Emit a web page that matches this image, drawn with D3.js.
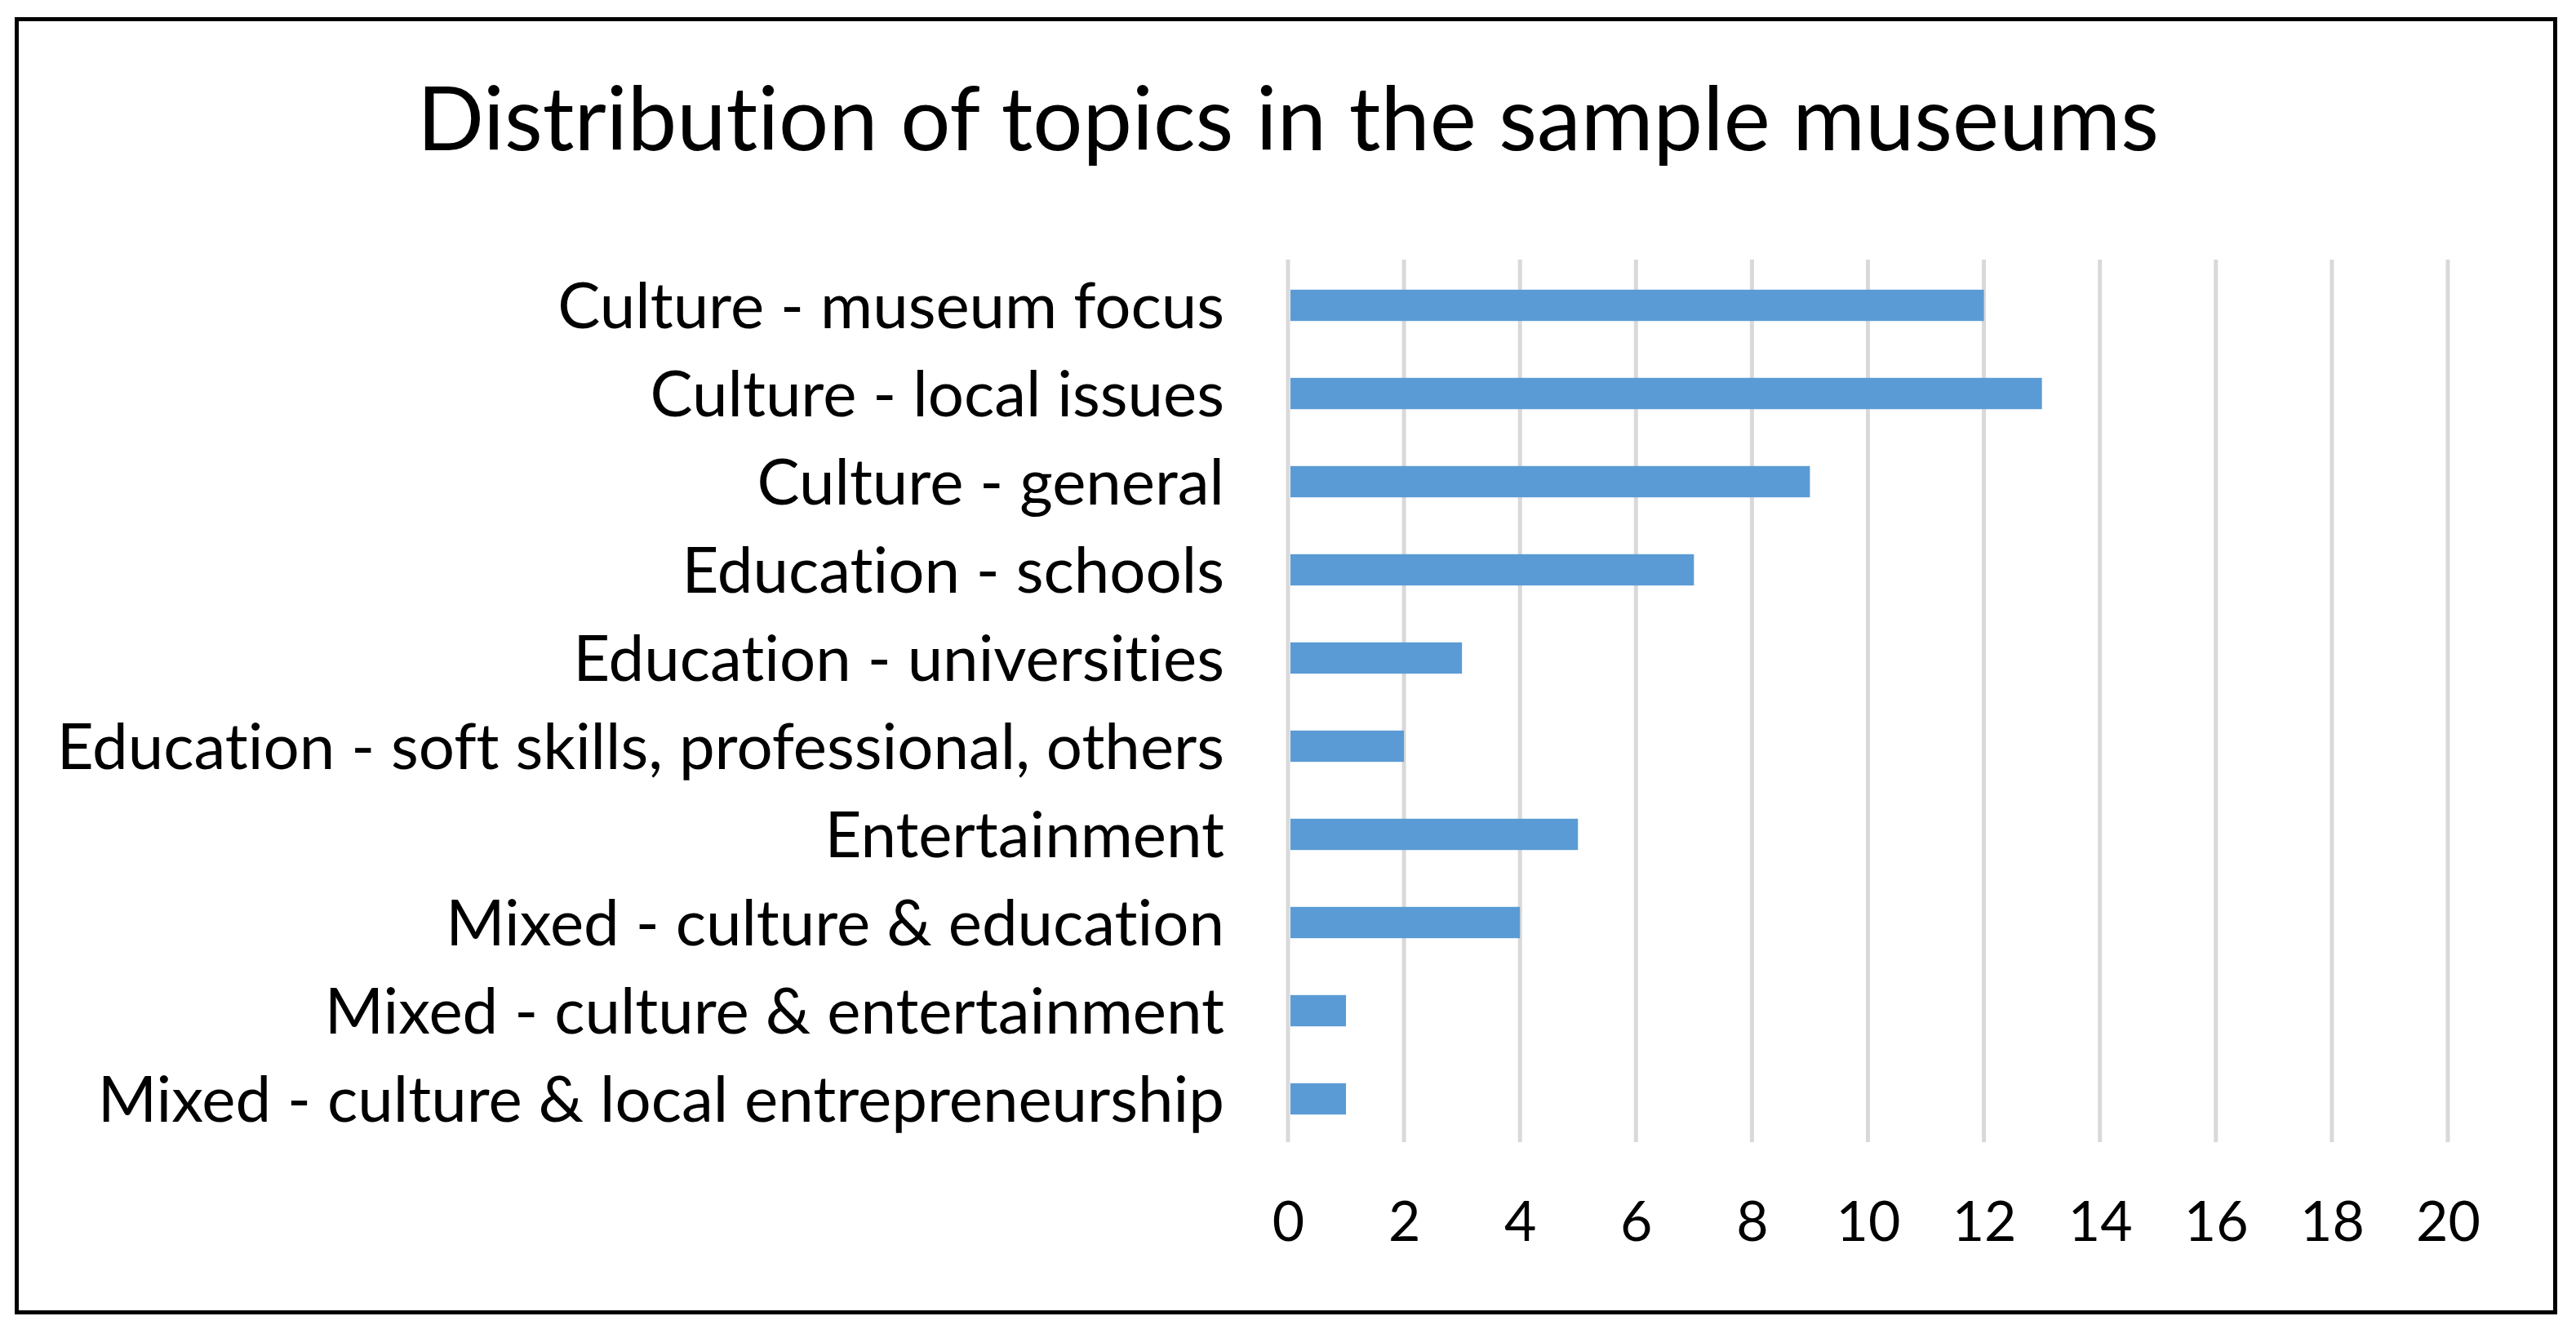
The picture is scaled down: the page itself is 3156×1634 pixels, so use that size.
<!DOCTYPE html>
<html>
<head>
<meta charset="utf-8">
<script src="https://cdn.jsdelivr.net/npm/d3@7"></script>
<style>
  html, body { margin: 0; padding: 0; background: #fff; }
  svg { display: block; }
  text { font-family: Lato, "Open Sans", sans-serif; fill: #000; font-variant-ligatures: none; }
</style>
</head>
<body>
<svg id="chart" width="3156" height="1634"></svg>
<script>
// data
const categories = [
  "Culture - museum focus",
  "Culture - local issues",
  "Culture - general",
  "Education - schools",
  "Education - universities",
  "Education - soft skills, professional, others",
  "Entertainment",
  "Mixed - culture & education",
  "Mixed - culture & entertainment",
  "Mixed - culture & local entrepreneurship"
];
const counts = [12, 13, 9, 7, 3, 2, 5, 4, 1, 1];
const xTicks = [0, 2, 4, 6, 8, 10, 12, 14, 16, 18, 20];
const title = "Distribution of topics in the sample museums";

const svg = d3.select("#chart");

// outer frame
svg.append("rect")
  .attr("x", 20.5).attr("y", 23.5)
  .attr("width", 3110).attr("height", 1584)
  .attr("fill", "#fff")
  .attr("stroke", "#000")
  .attr("stroke-width", 5);

const x = d3.scaleLinear()
  .domain([0, 20])
  .range([1578, 2999]);

const y = d3.scaleBand()
  .domain(categories)
  .range([320, 1400])
  .paddingInner(0.645)
  .paddingOuter(0.3225);

// title
svg.append("text")
  .attr("x", 1578)
  .attr("y", 184)
  .attr("text-anchor", "middle")
  .attr("font-size", "108px")
  .text(title);

// vertical gridlines
svg.append("g")
  .selectAll("line")
  .data(xTicks)
  .enter().append("line")
    .attr("x1", d => x(d)).attr("x2", d => x(d))
    .attr("y1", 318).attr("y2", 1399)
    .attr("stroke", "#d9d9d9")
    .attr("stroke-width", 5);

// bars
svg.append("g")
  .selectAll("rect")
  .data(counts)
  .enter().append("rect")
    .attr("x", x(0) + 3)
    .attr("y", (d, i) => y(categories[i]))
    .attr("width", d => x(d) - x(0) - 3)
    .attr("height", y.bandwidth())
    .attr("fill", "#5b9bd5");

// category labels
const yAxis = d3.axisLeft(y).tickSize(0).tickPadding(0);
const gy = svg.append("g")
  .attr("transform", "translate(1500,0)")
  .call(yAxis);
gy.select(".domain").remove();
gy.selectAll("text")
  .attr("font-size", "78px")
  .attr("font-family", "Lato, 'Open Sans', sans-serif")
  .attr("fill", "#000")
  .attr("dy", "0.36em");

// x tick labels
const xAxis = d3.axisBottom(x).tickValues(xTicks).tickSize(0).tickPadding(0);
const gx = svg.append("g")
  .attr("transform", "translate(0,1472)")
  .call(xAxis);
gx.select(".domain").remove();
gx.selectAll("text")
  .attr("font-size", "68px")
  .attr("font-family", "Lato, 'Open Sans', sans-serif")
  .attr("fill", "#000")
  .attr("dy", "0.71em");
</script>
</body>
</html>
